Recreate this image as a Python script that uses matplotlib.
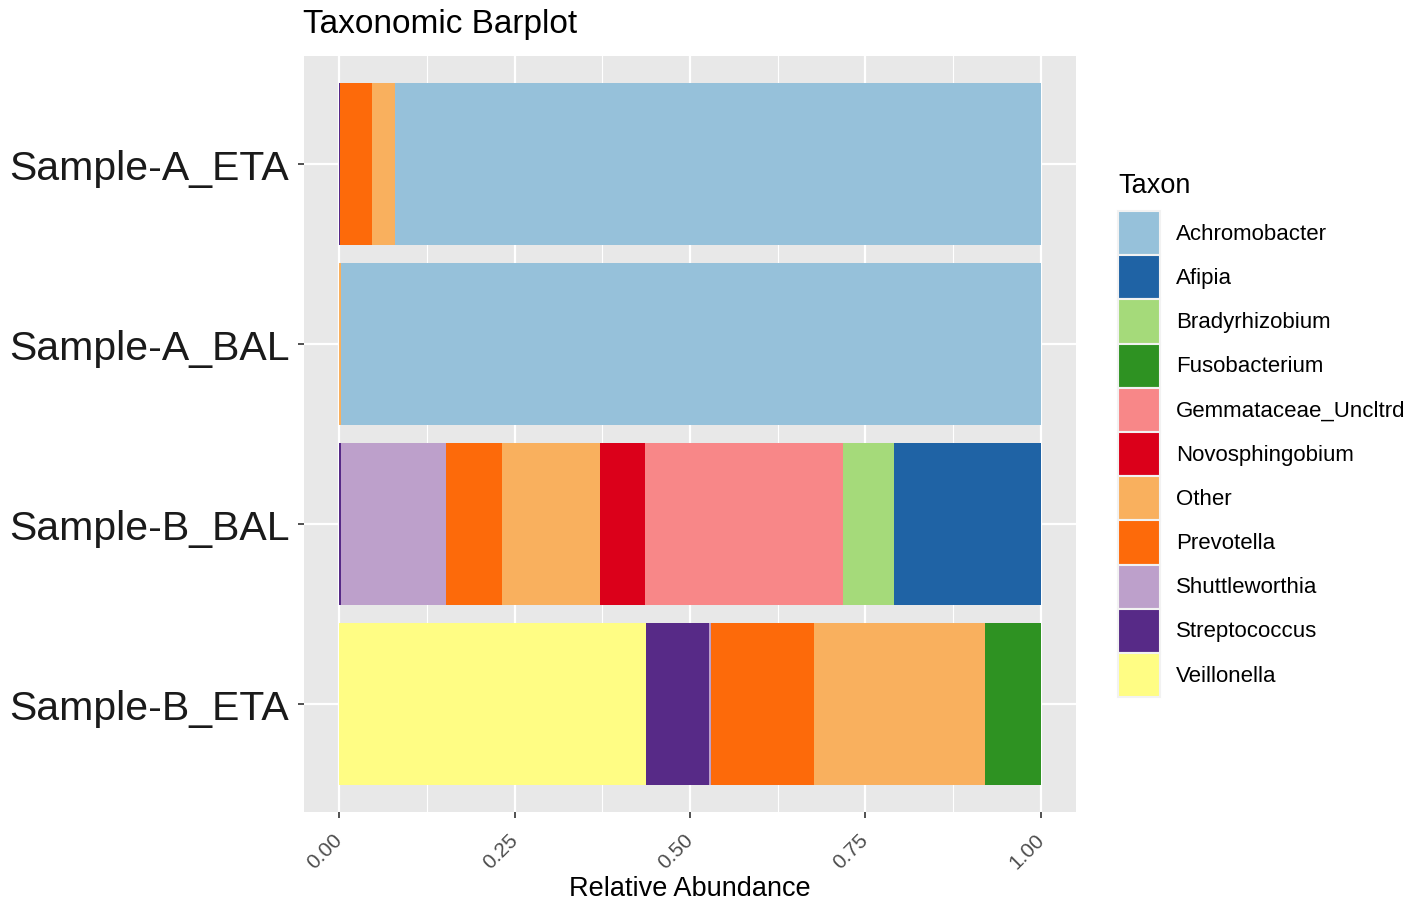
import matplotlib.pyplot as plt
from matplotlib.patches import Rectangle
import numpy as np

plt.rcParams['font.family'] = ['Liberation Sans', 'DejaVu Sans']

samples = ['Sample-A_ETA', 'Sample-A_BAL', 'Sample-B_BAL', 'Sample-B_ETA']
taxa = ['Achromobacter', 'Afipia', 'Bradyrhizobium', 'Fusobacterium',
        'Gemmataceae_Uncltrd', 'Novosphingobium', 'Other', 'Prevotella',
        'Shuttleworthia', 'Streptococcus', 'Veillonella']
colors = ['#96C1DA', '#1F63A5', '#A5DA7A', '#2E9222', '#F88788', '#DB001A',
          '#F9B05E', '#FD6A0A', '#BDA0CB', '#572A87', '#FFFD84']

# relative abundance per taxon, one value per sample (same order as samples)
abund = {
    'Achromobacter':       [0.920, 0.997, 0.0,   0.0],
    'Afipia':              [0.0,   0.0,   0.209, 0.0],
    'Bradyrhizobium':      [0.0,   0.0,   0.073, 0.0],
    'Fusobacterium':       [0.0,   0.0,   0.0,   0.080],
    'Gemmataceae_Uncltrd': [0.0,   0.0,   0.282, 0.0],
    'Novosphingobium':     [0.0,   0.0,   0.064, 0.0],
    'Other':               [0.033, 0.003, 0.140, 0.243],
    'Prevotella':          [0.046, 0.0,   0.080, 0.147],
    'Shuttleworthia':      [0.0,   0.0,   0.149, 0.003],
    'Streptococcus':       [0.001, 0.0,   0.003, 0.089],
    'Veillonella':         [0.0,   0.0,   0.0,   0.438],
}

W, H = 1424, 903
fig = plt.figure(figsize=(W / 100, H / 100), dpi=100)
ax = fig.add_axes([304 / W, 1 - 813 / H, (1076 - 304) / W, (813 - 57) / H])
ax.set_facecolor('#E8E8E8')

ypos = np.arange(len(samples))
left = np.zeros(len(samples))
# ggplot stacks the last factor level on the left
for t in taxa[::-1]:
    vals = np.array(abund[t])
    ax.barh(ypos, vals, left=left, height=0.9, color=colors[taxa.index(t)],
            edgecolor='none', zorder=3)
    left += vals

ax.set_xlim(-0.05, 1.05)
ax.set_ylim(len(samples) - 0.4, -0.6)
ax.set_xticks([0, 0.25, 0.5, 0.75, 1.0])
ax.set_xticks([0.125, 0.375, 0.625, 0.875], minor=True)
ax.set_xticklabels(['0.00', '0.25', '0.50', '0.75', '1.00'], rotation=45,
                   fontsize=15, color='#4D4D4D', ha='right', va='center',
                   rotation_mode='anchor')
ax.set_yticks(ypos)
ax.set_yticklabels(samples, fontsize=29.5, color='#1A1A1A')
ax.grid(True, which='major', color='white', linewidth=1.6, zorder=0)
ax.grid(True, which='minor', axis='x', color='white', linewidth=0.8, zorder=0)
ax.tick_params(axis='both', which='major', length=4.5, width=1.2, color='#333333')
ax.tick_params(axis='y', pad=6)
ax.tick_params(axis='x', pad=13)
ax.tick_params(which='minor', length=0)
for s in ax.spines.values():
    s.set_visible(False)
ax.set_axisbelow(True)

ax.set_xlabel('Relative Abundance', fontsize=19.5, color='black', labelpad=2)
fig.text(303 / W, 1 - 24 / H, 'Taxonomic Barplot', fontsize=24,
         ha='left', va='center')

# legend drawn by hand in pixel coordinates
lax = fig.add_axes([0, 0, 1, 1])
lax.set_xlim(0, W)
lax.set_ylim(H, 0)
lax.axis('off')
lax.text(1118, 186, 'Taxon', fontsize=19.5, ha='left', va='center')
key_top, key_h, key_w = 212, 44.2, 42
for i, t in enumerate(taxa):
    y0 = key_top + i * key_h
    lax.add_patch(Rectangle((1118, y0), key_w, key_h, facecolor=colors[i],
                            edgecolor='#F2F2F2', linewidth=1.5))
    lax.text(1176, y0 + key_h / 2, t, fontsize=16, ha='left', va='center')

fig.savefig('out.png', dpi=100)
